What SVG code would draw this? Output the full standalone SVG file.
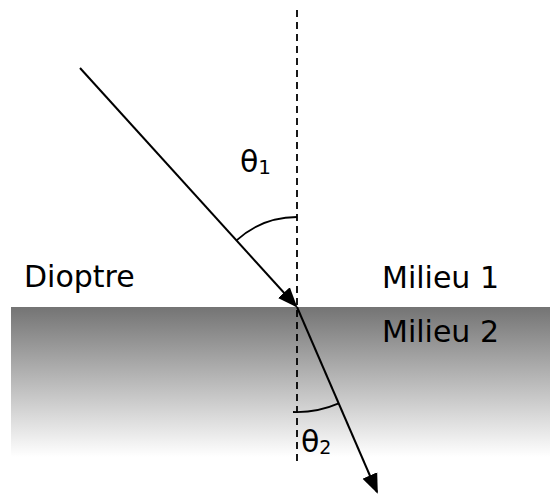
<svg xmlns="http://www.w3.org/2000/svg" width="550" height="497" viewBox="0 0 550 497">
<style>
.t{font-family:"DejaVu Sans",Verdana,sans-serif;font-size:30px;fill:#000}
.ray{stroke:#000;stroke-width:2;fill:none}
.arc{stroke:#000;stroke-width:1.8;fill:none}
</style>
<defs>
<linearGradient id="g" x1="0" y1="0" x2="0" y2="1">
<stop offset="0" stop-color="#747474"/>
<stop offset="1" stop-color="#ffffff"/>
</linearGradient>
<marker id="ah2" markerWidth="20" markerHeight="20" refX="18" refY="8" orient="auto" markerUnits="userSpaceOnUse" viewBox="0 0 20 16">
<path d="M0,0 L20,8 L0,16 z" fill="#000"/>
</marker>
</defs>
<g id="medium2">
<rect x="11" y="307" width="539" height="150" fill="url(#g)"/>
</g>
<g id="normal">
<line x1="297" y1="10" x2="297" y2="463" stroke="#000" stroke-width="1.8" stroke-dasharray="7,5"/>
</g>
<g id="connectors">
<line class="ray" x1="80" y1="68" x2="296" y2="306" marker-end="url(#ah2)"/>
<line class="ray" x1="297" y1="307" x2="377" y2="492" marker-end="url(#ah2)"/>
</g>
<g id="angle1">
<path class="arc" d="M236.5,240.4 A90,90 0 0 1 297,217"/>
<text class="t" x="240" y="172">θ<tspan font-size="20" dy="2">1</tspan></text>
</g>
<g id="angle2">
<path class="arc" d="M293,412 A105,105 0 0 0 338.7,403.4"/>
<text class="t" x="301" y="452" font-size="27">θ<tspan font-size="19" dy="2">2</tspan></text>
</g>
<g id="labels">
<text class="t" x="24" y="287">Dioptre</text>
<text class="t" x="382" y="288">Milieu 1</text>
<text class="t" x="382" y="342">Milieu 2</text>
</g>
</svg>
